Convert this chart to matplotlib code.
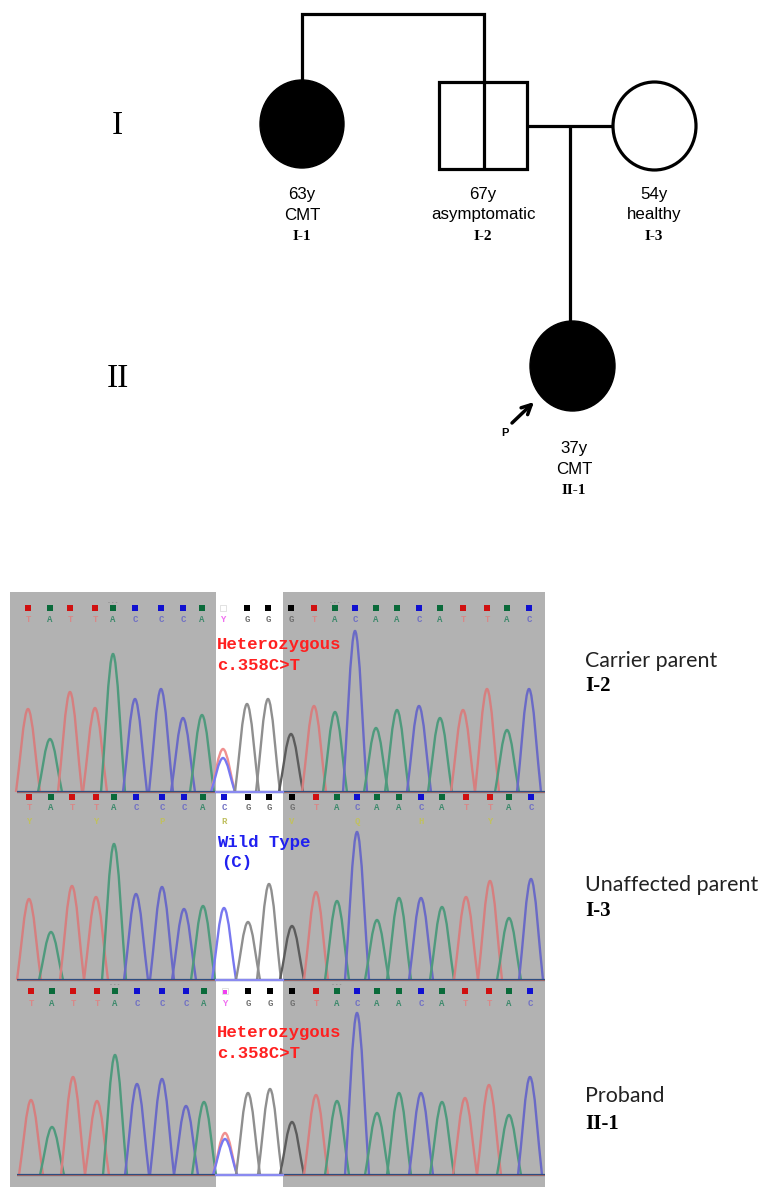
'''
pedigree with sanger traces for the three family members
'''

import matplotlib
matplotlib.use('Agg')
import matplotlib.pyplot as plt
from matplotlib.patches import Ellipse, PathPatch, Rectangle
from matplotlib.path import Path

W, H = 763, 1189

bases_het = list("TATTACCCAYGGGTACAACATTAC")
bases_wt = list("TATTACCCACGGGTACAACATTAC")
amino_row = {0: "Y", 3: "Y", 6: "P", 9: "R", 12: "V", 15: "Q", 18: "H", 21: "Y"}

# peak positions and heights
carrier_pos = [28, 50, 70, 95, 113, 135, 161, 183, 202, 223, 247, 268, 291, 314, 335, 355, 376, 397, 419, 440, 463, 487, 507, 529]
carrier_height = [83, 53, 100, 84, 138, 93, 103, 74, 77, 34, 88, 93, 58, 86, 80, 161, 64, 82, 86, 74, 82, 103, 62, 103]
carrier_t_peak = 43

unaffected_pos = [29, 51, 72, 96, 114, 136, 162, 184, 203, 224, 248, 269, 292, 316, 337, 357, 377, 399, 421, 442, 466, 490, 509, 531]
unaffected_height = [81, 48, 94, 83, 136, 86, 93, 71, 74, 72, 58, 96, 54, 88, 79, 148, 60, 82, 82, 73, 83, 99, 62, 101]

proband_pos = [31, 52, 73, 97, 115, 137, 162, 186, 204, 225, 248, 270, 292, 316, 337, 357, 377, 399, 421, 442, 465, 489, 509, 530]
proband_height = [75, 48, 98, 74, 120, 91, 96, 69, 73, 36, 82, 86, 53, 80, 74, 162, 62, 82, 82, 73, 77, 90, 60, 98]
proband_t_peak = 42

trace_col = {'T': '#d67f7f', 'A': '#4f9a7d', 'C': '#6a6ac6', 'G': '#5c5c5c', 'Y': '#f070f0'}
square_col = {'T': '#d01010', 'A': '#0a6a3a', 'C': '#1010d0', 'G': '#000000'}
letter_col = {'T': '#d88888', 'A': '#3f8a6d', 'C': '#7070c4', 'G': '#707070', 'Y': '#f070f0'}


def px_axes(fig, left, top, right, bottom):
    return fig.add_axes([left / W, 1 - bottom / H, (right - left) / W, (bottom - top) / H])


def draw_peak(ax, x, h, color, width=12, lw=1.7):
    verts = [(x - width, 0), (x - 0.7 * width, 0.3 * h), (x - 0.35 * width, h), (x, h),
             (x + 0.35 * width, h), (x + 0.7 * width, 0.3 * h), (x + width, 0)]
    codes = [Path.MOVETO] + [Path.CURVE4] * 6
    ax.add_patch(PathPatch(Path(verts, codes), fill=False, edgecolor=color, lw=lw, zorder=3))


def draw_trace(ax, pos, height, bases, square_y, letter_y, t_peak=None, ticks=False):
    ax.set_axis_off()
    ax.axvspan(10, 216, color='#b2b2b2', lw=0, zorder=1)
    ax.axvspan(283, 545, color='#b2b2b2', lw=0, zorder=1)
    for i, (x, h, b) in enumerate(zip(pos, height, bases)):
        if i == 9:
            c = '#7878f0'
            if t_peak is not None:
                draw_peak(ax, x, t_peak, '#f09090')
        elif 216 < x < 283 and b == 'G':
            c = '#8f8f8f'
        else:
            c = trace_col[b]
        draw_peak(ax, x, h, c)
        if b == 'Y':
            ax.scatter(x, square_y, marker='s', s=16, c='white', edgecolors='#dddddd', linewidths=0.6, zorder=4)
        else:
            ax.scatter(x, square_y, marker='s', s=14, c=square_col[b], linewidths=0, zorder=4)
        ax.text(x, letter_y, b, color=letter_col[b], fontsize=6.5, family='Liberation Mono', weight='bold',
                ha='center', va='center', zorder=4)
        if ticks and i in (4, 14):
            ax.text(x, square_y + 6, '- - -', color='#707070', fontsize=4, ha='center', va='center', zorder=4)
    ax.plot([17, 545], [0, 0], color='#2f4d80', lw=1.6, zorder=4, solid_capstyle='butt')
    ax.plot([17, 216], [0.5, 0.5], color='#b06a60', lw=0.6, zorder=5)
    ax.plot([283, 545], [0.5, 0.5], color='#b06a60', lw=0.6, zorder=5)
    ax.plot([216, 283], [0, 0], color='#8a8af0', lw=1.6, zorder=5)


def mut_label(ax, lines, color, y0, dy):
    for k, s in enumerate(lines):
        ax.text(217 + (4 if s.startswith('(') else 0), y0 - k * dy, s, color=color, fontsize=12.4,
                family='Liberation Mono', weight='bold', ha='left', va='center', zorder=6)


fig = plt.figure(figsize=(W / 100, H / 100), dpi=100)

# trace panels, y axis is signal above the baseline
ax1 = px_axes(fig, 10, 592, 545, 794)
ax1.set_xlim(10, 545)
ax1.set_ylim(-2, 200)
draw_trace(ax1, carrier_pos, carrier_height, bases_het, 184, 173, t_peak=carrier_t_peak, ticks=True)
mut_label(ax1, ["Heterozygous", "c.358C>T"], '#ff2020', 147, 20)

ax2 = px_axes(fig, 10, 794, 545, 982)
ax2.set_xlim(10, 545)
ax2.set_ylim(-2, 186)
draw_trace(ax2, unaffected_pos, unaffected_height, bases_wt, 183, 172)
mut_label(ax2, ["Wild Type", "(C)"], '#2020f0', 137, 20)
for i, a in amino_row.items():
    ax2.text(unaffected_pos[i], 159, a, color='#c0c060', fontsize=6.5, family='Liberation Mono', weight='bold',
             ha='center', va='center', zorder=4)

ax3 = px_axes(fig, 10, 982, 545, 1187)
ax3.set_xlim(10, 545)
ax3.set_ylim(-12, 193)
draw_trace(ax3, proband_pos, proband_height, bases_het, 184, 172, t_peak=proband_t_peak, ticks=True)
ax3.scatter(proband_pos[9], 183, marker='s', s=7, c='#f040f0', linewidths=0, zorder=5)
mut_label(ax3, ["Heterozygous", "c.358C>T"], '#ff2020', 142, 20)

# pedigree and labels on an overlay in picture pixels
ov = fig.add_axes([0, 0, 1, 1], zorder=10)
ov.set_xlim(0, W)
ov.set_ylim(H, 0)
ov.set_axis_off()

lines = [([302, 302, 484, 484], [80, 14, 14, 169]),
         ([527, 613], [126, 126]),
         ([570, 570], [126, 321])]
for xs, ys in lines:
    ov.plot(xs, ys, color='black', lw=2.3, solid_capstyle='butt', solid_joinstyle='miter')

ov.add_patch(Rectangle((439, 82), 88, 87, fill=False, edgecolor='black', lw=2.3))
ov.add_patch(Ellipse((302, 124), 84, 88, facecolor='black', edgecolor='black'))
ov.add_patch(Ellipse((654.5, 126), 83, 88, facecolor='white', edgecolor='black', lw=2.3))
ov.add_patch(Ellipse((572.5, 366), 85, 90, facecolor='black', edgecolor='black'))

ov.annotate('', xy=(534, 402), xytext=(512, 423),
            arrowprops=dict(arrowstyle='->', lw=2.5, color='black', mutation_scale=17, shrinkA=0, shrinkB=0))
ov.text(505, 433, 'P', fontsize=8, weight='bold', family='Liberation Sans', ha='center', va='center')

for s, x, y in [('I', 117, 126), ('II', 118, 379)]:
    ov.text(x, y, s, fontsize=24, family='Liberation Serif', ha='center', va='center')

person_labels = [(302, 195, '63y', 'CMT', 'I-1'),
                 (483, 195, '67y', 'asymptomatic', 'I-2'),
                 (654, 195, '54y', 'healthy', 'I-3'),
                 (574, 449, '37y', 'CMT', 'II-1')]
for x, y, age, status, pid in person_labels:
    ov.text(x, y, age, fontsize=12.2, family='Liberation Sans', ha='center', va='center')
    ov.text(x, y + 20, status, fontsize=12.2, family='Liberation Sans', ha='center', va='center')
    ov.text(x, y + 41, pid, fontsize=11, weight='bold', family='Liberation Serif', ha='center', va='center')

right_labels = [(661, 'Carrier parent', 686, 'I-2'),
                (885, 'Unaffected parent', 911, 'I-3'),
                (1096, 'Proband', 1124, 'II-1')]
for y1, s, y2, pid in right_labels:
    ov.text(585, y1, s, fontsize=15.4, family='Lato', color='#222222', ha='left', va='center')
    ov.text(585, y2, pid, fontsize=15, weight='bold', family='Liberation Serif', ha='left', va='center')

fig.savefig('out.png', dpi=100)
